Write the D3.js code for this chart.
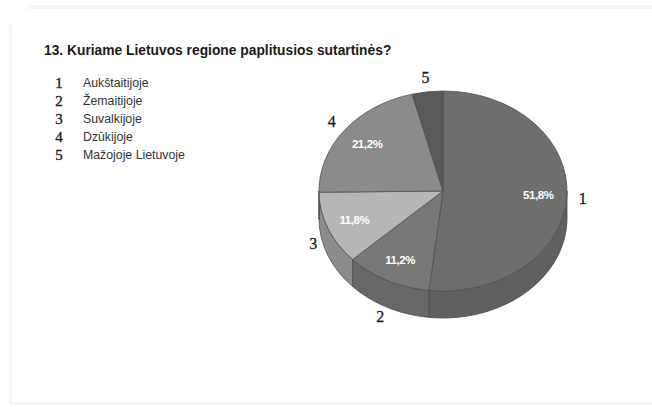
<!DOCTYPE html>
<html>
<head>
<meta charset="utf-8">
<script src="https://cdn.jsdelivr.net/npm/d3@7"></script>
<style>
  html, body { margin: 0; padding: 0; background: #ffffff; }
  svg { display: block; }
</style>
</head>
<body>
<svg id="chart" width="652" height="407"></svg>
<script>
// Survey question 13: regions where sutartinės are widespread
const titleText = "13. Kuriame Lietuvos regione paplitusios sutartinės?";
const categories = ["1", "2", "3", "4", "5"];
const regions = ["Aukštaitijoje", "Žemaitijoje", "Suvalkijoje", "Dzūkijoje", "Mažojoje Lietuvoje"];
const shares = [51.8, 11.2, 11.8, 21.2, 4.0];
const topColors = ["#6e6e6e", "#777777", "#b6b6b6", "#8b8b8b", "#595959"];
const sideColors = ["#606060", "#676767", "#8c8c8c", "#757575", "#4c4c4c"];

const svg = d3.select("#chart");

// faint page edges
svg.append("rect").attr("x", 28).attr("y", 5).attr("width", 624).attr("height", 4).attr("fill", "#f5f5f5");
svg.append("rect").attr("x", 9).attr("y", 25).attr("width", 3).attr("height", 378).attr("fill", "#f4f4f4");
svg.append("rect").attr("x", 9).attr("y", 402).attr("width", 643).attr("height", 3).attr("fill", "#f5f5f5");

// title
svg.append("text")
  .attr("x", 44).attr("y", 55)
  .attr("font-family", "Liberation Sans, Arial, sans-serif")
  .attr("font-weight", "bold")
  .attr("font-size", 13.8)
  .attr("fill", "#1a1a1a")
  .text(titleText);

// legend
const legendY = d3.scalePoint().domain(categories).range([88, 160]);
const legend = svg.append("g");
legend.selectAll("text.num")
  .data(categories)
  .join("text")
  .attr("class", "num")
  .attr("x", 59).attr("y", d => legendY(d))
  .attr("text-anchor", "middle")
  .attr("font-family", "Liberation Serif, Times New Roman, serif")
  .attr("font-size", 15)
  .attr("fill", "#1a1a1a")
  .attr("stroke", "#1a1a1a")
  .attr("stroke-width", 0.35)
  .text(d => d);
legend.selectAll("text.name")
  .data(regions)
  .join("text")
  .attr("class", "name")
  .attr("x", 83).attr("y", (d, i) => legendY(categories[i]) - 1)
  .attr("font-family", "Liberation Sans, Arial, sans-serif")
  .attr("font-size", 12.3)
  .attr("fill", "#333")
  .text(d => d);

// 3D pie
const cx = 443, cy = 191, rx = 124, ry = 100, depth = 27;
const pie = d3.pie().sort(null).value(d => d);
const arcsData = pie(shares);

const ex = a => cx + rx * Math.sin(a);
const ey = a => cy - ry * Math.cos(a);

// front walls
const line = d3.line();
const sides = svg.append("g");
arcsData.forEach((d, i) => {
  const s = Math.max(d.startAngle, Math.PI / 2);
  const e = Math.min(d.endAngle, 3 * Math.PI / 2);
  if (s >= e) return;
  const n = 60;
  const angs = d3.range(n + 1).map(k => s + (e - s) * k / n);
  const pts = angs.map(a => [ex(a), ey(a)])
    .concat(angs.slice().reverse().map(a => [ex(a), ey(a) + depth]));
  sides.append("path")
    .attr("d", line(pts) + "Z")
    .attr("fill", sideColors[i])
    .attr("stroke", "#4a4a4a")
    .attr("stroke-width", 0.8)
    .attr("stroke-linejoin", "round");
});

// top faces
const arc = d3.arc().innerRadius(0).outerRadius(rx);
const faces = svg.append("g")
  .attr("transform", `translate(${cx},${cy}) scale(1,${ry / rx})`);
faces.selectAll("path")
  .data(arcsData)
  .join("path")
  .attr("d", arc)
  .attr("fill", (d, i) => topColors[i])
  .attr("stroke", "#505050")
  .attr("stroke-width", 0.8)
  .attr("vector-effect", "non-scaling-stroke");

// percentage labels on the slices
const pctFormat = v => d3.format(".1f")(v).replace(".", ",") + "%";
svg.append("g").selectAll("text")
  .data(arcsData.filter(d => d.data >= 5))
  .join("text")
  .attr("x", d => cx + 0.77 * rx * Math.sin((d.startAngle + d.endAngle) / 2))
  .attr("y", d => cy - 0.77 * ry * Math.cos((d.startAngle + d.endAngle) / 2) + 4)
  .attr("text-anchor", "middle")
  .attr("font-family", "Liberation Sans, Arial, sans-serif")
  .attr("font-weight", "bold")
  .attr("font-size", 11.5)
  .attr("letter-spacing", -0.4)
  .attr("fill", "#ffffff")
  .text(d => pctFormat(d.data));

// category numbers around the pie
svg.append("g").selectAll("text")
  .data(arcsData)
  .join("text")
  .attr("x", d => {
    const m = (d.startAngle + d.endAngle) / 2;
    return cx + (rx + 16) * Math.sin(m);
  })
  .attr("y", d => {
    const m = (d.startAngle + d.endAngle) / 2;
    const c = Math.cos(m);
    return cy - (ry + 14) * c + (c < 0 ? -c * depth : 0) + 5;
  })
  .attr("text-anchor", "middle")
  .attr("font-family", "Liberation Serif, Times New Roman, serif")
  .attr("font-size", 16)
  .attr("fill", "#1a1a1a")
  .attr("stroke", "#1a1a1a")
  .attr("stroke-width", 0.3)
  .text((d, i) => categories[i]);
</script>
</body>
</html>
